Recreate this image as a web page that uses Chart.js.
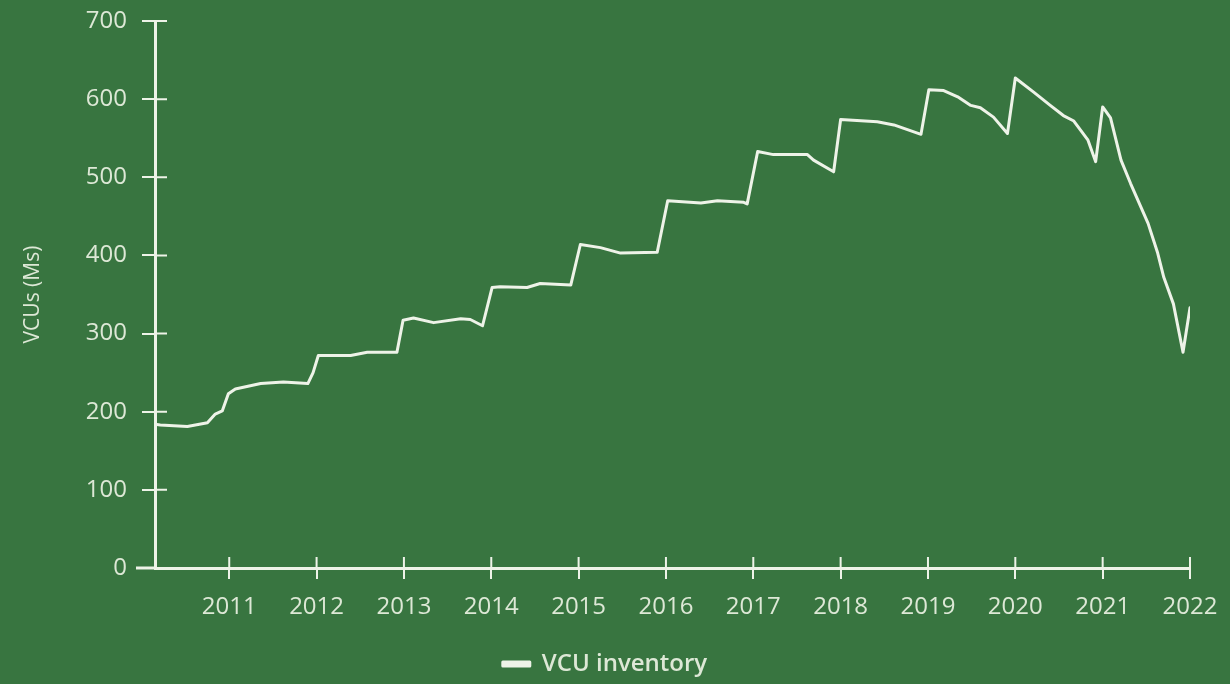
<!DOCTYPE html>
<html>
<head>
<meta charset="utf-8">
<script src="https://cdn.jsdelivr.net/npm/chart.js@4.4.1/dist/chart.umd.min.js"></script>
<style>
  html, body { margin: 0; padding: 0; background: #387540; }
  #wrap { width: 1230px; height: 684px; }
</style>
</head>
<body>
<div id="wrap"><canvas id="chart"></canvas></div>
<script>
// ── VCU inventory (millions) ─────────────────────────────────────────────────
const years = [
  2010.15, 2010.21, 2010.52, 2010.75, 2010.84, 2010.92, 2010.99, 2011.07, 2011.36, 2011.62,
  2011.90, 2011.96, 2012.02, 2012.39, 2012.58, 2012.92, 2012.99, 2013.11, 2013.34, 2013.65,
  2013.76, 2013.90, 2014.01, 2014.10, 2014.41, 2014.56, 2014.91, 2015.02, 2015.25, 2015.48,
  2015.90, 2016.02, 2016.40, 2016.59, 2016.89, 2016.93, 2017.05, 2017.23, 2017.62, 2017.69,
  2017.92, 2018.00, 2018.42, 2018.61, 2018.92, 2019.01, 2019.18, 2019.34, 2019.49, 2019.60,
  2019.75, 2019.91, 2020.00, 2020.21, 2020.40, 2020.55, 2020.67, 2020.83, 2020.92, 2021.00,
  2021.09, 2021.21, 2021.32, 2021.52, 2021.63, 2021.70, 2021.81, 2021.92, 2022.00
];
const inventory = [
  184, 183, 181, 186, 197, 201, 223, 229, 236, 238,
  236, 250, 272, 272, 276, 276, 317, 320, 314, 319,
  318, 310, 359, 360, 359, 364, 362, 414, 410, 403,
  404, 470, 467, 470, 468, 466, 533, 529, 529, 522,
  507, 574, 571, 567, 555, 612, 611, 603, 592, 589,
  577, 556, 627, 609, 592, 579, 572, 548, 520, 590,
  576, 522, 492, 441, 403, 372, 338, 276, 333
];
const yearTicks  = [2011, 2012, 2013, 2014, 2015, 2016, 2017, 2018, 2019, 2020, 2021, 2022];
const valueTicks = [0, 100, 200, 300, 400, 500, 600, 700];

const INK  = '#eef3e8';
const TEXT = '#dde8d6';
const FONT = "'Open Sans', sans-serif";

// ticks that cross the axis line, plus the little x-axis overhang on the left
const crossTicks = {
  id: 'crossTicks',
  afterDraw(chart) {
    const { ctx, chartArea: a, scales: { x, y } } = chart;
    ctx.save();
    ctx.strokeStyle = INK;
    ctx.lineWidth = 2;
    ctx.beginPath();
    y.ticks.forEach(t => { const py = y.getPixelForValue(t.value); if (t.value > 0) { ctx.moveTo(a.left, py); ctx.lineTo(a.left + 12, py); } });
    x.ticks.forEach(t => { const px = x.getPixelForValue(t.value); ctx.moveTo(px, a.bottom); ctx.lineTo(px, a.bottom - 11); });
    ctx.stroke();
    ctx.lineWidth = 3;
    ctx.beginPath();
    ctx.moveTo(a.left - 19, a.bottom);
    ctx.lineTo(a.left, a.bottom);
    ctx.stroke();
    ctx.restore();
  }
};

new Chart(document.getElementById('chart'), {
  type: 'line',
  data: {
    datasets: [{
      label: 'VCU inventory',
      data: years.map((yr, i) => ({ x: yr, y: inventory[i] })),
      borderColor: INK, backgroundColor: INK,
      borderWidth: 3, pointRadius: 0, tension: 0,
      borderJoinStyle: 'round', borderCapStyle: 'round',
      fill: false
    }]
  },
  plugins: [crossTicks],
  options: {
    responsive: true, maintainAspectRatio: false, animation: false,
    layout: { padding: { left: 20, right: 40, top: 21, bottom: -2 } },
    plugins: {
      legend: {
        position: 'bottom',
        labels: { color: TEXT, font: { family: FONT, size: 24, weight: '600' }, boxWidth: 27, boxHeight: 4, padding: 10 }
      },
      tooltip: { enabled: false }
    },
    scales: {
      x: {
        type: 'linear', min: 2010.15, max: 2022,
        afterBuildTicks: s => { s.ticks = yearTicks.map(v => ({ value: v })); },
        afterFit: s => { s.height = 74; s.paddingLeft = 0; s.paddingRight = 0; },
        grid: { drawOnChartArea: false, color: INK, lineWidth: 2, tickLength: 11 },
        border: { color: INK, width: 3 },
        ticks: { color: TEXT, font: { family: FONT, size: 24 }, padding: 14, maxRotation: 0, callback: v => String(v) }
      },
      y: {
        min: 0, max: 700,
        afterBuildTicks: s => { s.ticks = valueTicks.map(v => ({ value: v })); },
        afterFit: s => { s.width = 135; s.paddingTop = 0; s.paddingBottom = 0; },
        grid: { drawOnChartArea: false, color: INK, lineWidth: 2, tickLength: 13 },
        border: { color: INK, width: 3 },
        ticks: { color: TEXT, font: { family: FONT, size: 24 }, padding: 15 },
        title: { display: true, text: 'VCUs (Ms)', color: TEXT, font: { family: FONT, size: 21 }, padding: { top: 0, bottom: 0 } }
      }
    }
  }
});
</script>
</body>
</html>
